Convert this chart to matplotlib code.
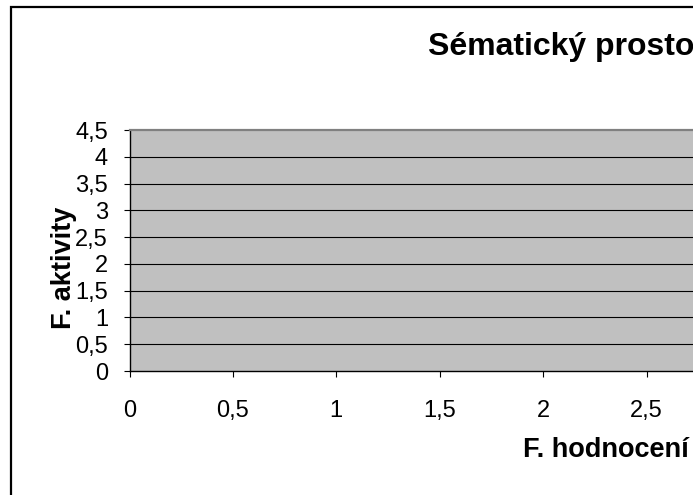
import matplotlib
matplotlib.use("Agg")
import matplotlib.pyplot as plt
from matplotlib.patches import Rectangle

plt.rcParams["font.family"] = ["Liberation Sans", "DejaVu Sans"]

# axis ranges / ticks (right part of the chart is cropped)
x_ticks = [0, 0.5, 1, 1.5, 2, 2.5]
y_ticks = [0, 0.5, 1, 1.5, 2, 2.5, 3, 3.5, 4, 4.5]
x_max, y_max = 3, 4.5
title = "Sématický prostor"
x_title = "F. hodnocení"
y_title = "F. aktivity"

W, H = 693, 495
fig = plt.figure(figsize=(W / 100, H / 100), dpi=100)

# plot area in pixels: x=0 at 129.5, 103.4 px per 0.5; y 0..4.5 from 371 to 130
x0, step = 129.5, 103.4
x1 = x0 + step * x_max / 0.5
ax = fig.add_axes([x0 / W, 1 - 371 / H, (x1 - x0) / W, (371 - 130) / H])
ax.set_facecolor("#c0c0c0")
ax.set_xlim(0, x_max)
ax.set_ylim(0, y_max)
ax.set_xticks(x_ticks)
ax.set_yticks(y_ticks)
fmt = lambda v: f"{v:g}".replace(".", ",")
ax.set_xticklabels([fmt(v) for v in x_ticks])
ax.set_yticklabels([fmt(v) for v in y_ticks])
for y in y_ticks[1:-1]:
    ax.axhline(y, color="black", lw=0.8, zorder=1)
ax.tick_params(axis="both", direction="out", length=4.5, width=0.8,
               colors="black", labelsize=17)
ax.tick_params(axis="x", pad=16.5)
ax.tick_params(axis="y", pad=11)
for sp in ("left", "bottom"):
    ax.spines[sp].set_color("black")
    ax.spines[sp].set_linewidth(1.0)
ax.spines["top"].set_color("#808080")
ax.spines["top"].set_linewidth(1.6)
ax.spines["right"].set_visible(False)

ax.set_xlabel(x_title, fontsize=19.5, fontweight="bold", va="center")
ax.xaxis.set_label_coords(605.5 / W, 1 - 450 / H, transform=fig.transFigure)
ax.set_ylabel(y_title, fontsize=19.5, fontweight="bold")
ax.yaxis.set_label_coords(77 / W, 1 - 268 / H, transform=fig.transFigure)

fig.text(428 / W, 1 - 47 / H, title, fontsize=23, fontweight="bold",
         ha="left", va="center")

# chart border (continues past the cropped right and bottom edges)
fig.patches.append(Rectangle((10.5 / W, -0.2), 2.0, 1.2 - 6.5 / H, fill=False,
                             lw=1.6, edgecolor="black",
                             transform=fig.transFigure))

fig.savefig("out.png", dpi=100, facecolor="white")
